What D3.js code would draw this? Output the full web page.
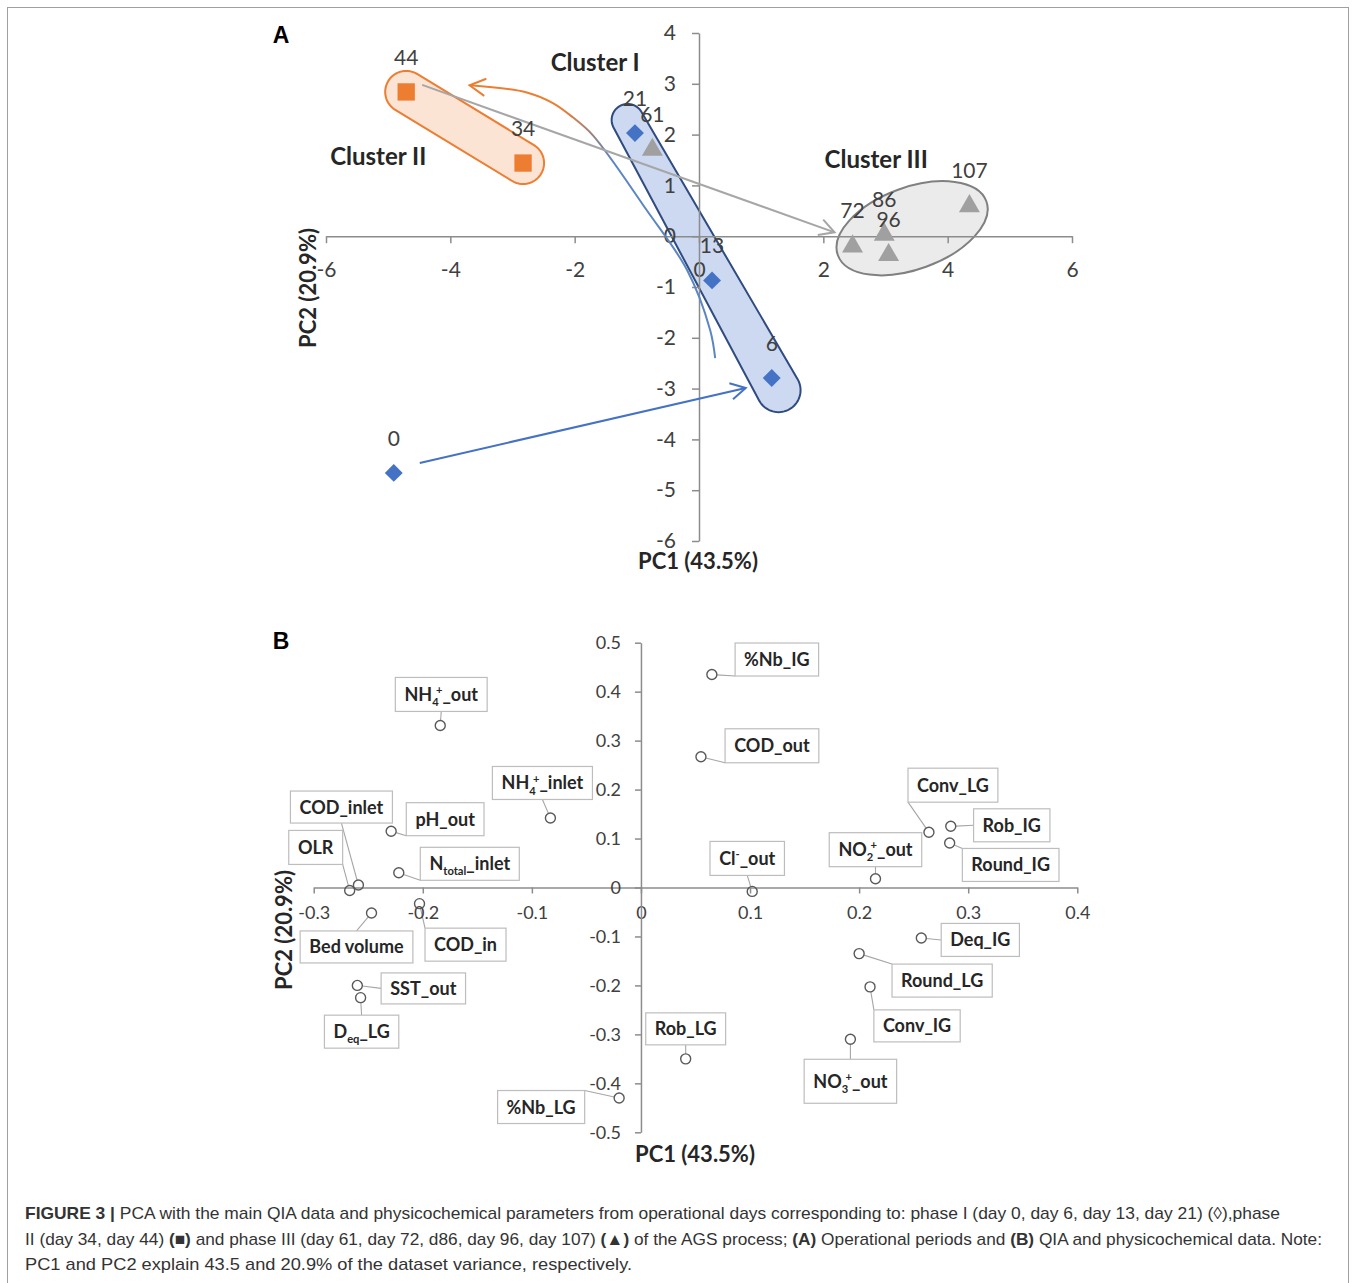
<!DOCTYPE html>
<html>
<head>
<meta charset="utf-8">
<script src="https://cdn.jsdelivr.net/npm/d3@7"></script>
<style>
  body { margin: 0; background: #fff; }
</style>
</head>
<body>
<script>
// ---- panel A : operational days ----
const days  = [0, 6, 13, 21, 34, 44, 61, 72, 86, 96, 107];
const pc1A  = [-4.91, 1.17, 0.21, -1.03, -2.83, -4.71, -0.75, 2.47, 2.98, 3.05, 4.35];
const pc2A  = [-4.66, -2.79, -0.87, 2.03, 1.44, 2.84, 1.72, -0.18, 0.05, -0.35, 0.61];
const phase = ["I", "I", "I", "I", "II", "II", "III", "III", "III", "III", "III"];
const xTicksA = [-6, -4, -2, 0, 2, 4, 6];
const yTicksA = [-6, -5, -4, -3, -2, -1, 0, 1, 2, 3, 4];

const clusterNames = ["Cluster I", "Cluster II", "Cluster III"];
const clusterPC1 = [-1.67, -5.16, 2.85];
const clusterPC2 = [3.41, 1.56, 1.50];

// hand drawn curved arrow (day 6 -> cluster II), in PC units
const trendPC1 = [0.26, 0.18, -0.19, -0.84, -1.71, -2.03, -2.35, -2.77, -3.69];
const trendPC2 = [-2.40, -1.85, -0.67, 0.51, 1.99, 2.34, 2.62, 2.83, 2.97];

// ---- panel B : QIA and physicochemical loadings ----
const vars = ["%Nb_IG", "COD_out", "Conv_LG", "Rob_IG", "Round_IG", "NO{2}[+]_out", "Cl[-]_out",
  "NH{4}[+]_out", "NH{4}[+]_inlet", "COD_inlet", "pH_out", "OLR", "N{total}_inlet", "Bed volume",
  "COD_in", "SST_out", "D{eq}_LG", "%Nb_LG", "Deq_IG", "Round_LG", "Conv_IG", "Rob_LG", "NO{3}[+]_out"];
const pc1B = [0.065, 0.055, 0.264, 0.284, 0.283, 0.215, 0.102, -0.184, -0.083, -0.259, -0.229, -0.267,
  -0.222, -0.247, -0.203, -0.260, -0.257, -0.020, 0.257, 0.200, 0.210, 0.041, 0.192];
const pc2B = [0.435, 0.267, 0.113, 0.125, 0.091, 0.018, -0.008, 0.331, 0.142, 0.005, 0.115, -0.006,
  0.030, -0.052, -0.033, -0.200, -0.225, -0.430, -0.103, -0.135, -0.203, -0.350, -0.310];
const xTicksB = [-0.3, -0.2, -0.1, 0, 0.1, 0.2, 0.3, 0.4];
const yTicksB = [-0.5, -0.4, -0.3, -0.2, -0.1, 0, 0.1, 0.2, 0.3, 0.4, 0.5];

// label box offsets from the point (px) and box heights
const labelDX = [65, 71, 24, 61, 61, 0, -5, 1, -8, -17, 54, -34, 71, -15, 46, 66, 1, -78, 59, 83, 47, 0, 0];
const labelDY = [-15, -11, -47, -1, 22, -29, -33, -31, -35, -78, -12, -43, -9, 34, 41, 3, 34, 9, 2, 27, 39, -30, 42];
const labelH  = [33, 34, 34, 33, 33, 34, 34, 34, 33, 32, 33, 34, 33, 32, 33, 31, 33, 33, 33, 33, 32, 32, 44];

const svg = d3.select("body").append("svg")
  .attr("width", 1356)
  .attr("height", 1283)
  .attr("font-family", "Lato, 'Open Sans', sans-serif");

svg.append("rect")
  .attr("x", 7.5).attr("y", 7.5)
  .attr("width", 1341).attr("height", 1300)
  .attr("fill", "none").attr("stroke", "#a0a0a0");

const axisColor = "#8c8c8c";
function styleAxis(g, size) {
  g.attr("font-family", "Lato, sans-serif").attr("font-size", size);
  g.select(".domain").attr("stroke", axisColor).attr("stroke-width", 1.5);
  g.selectAll(".tick line").attr("stroke", axisColor).attr("stroke-width", 1.5);
  g.selectAll(".tick text").attr("fill", "#404040");
}

function arrow(g, x1, y1, x2, y2, color) {
  const a = Math.atan2(y2 - y1, x2 - x1), L = 17, s = 0.5;
  g.append("line").attr("x1", x1).attr("y1", y1).attr("x2", x2).attr("y2", y2)
    .attr("stroke", color).attr("stroke-width", 2);
  g.append("path")
    .attr("d", `M${x2 - L * Math.cos(a - s)},${y2 - L * Math.sin(a - s)}L${x2},${y2}L${x2 - L * Math.cos(a + s)},${y2 - L * Math.sin(a + s)}`)
    .attr("fill", "none").attr("stroke", color).attr("stroke-width", 2);
}

// ===================== PANEL A =====================
const xA = d3.scaleLinear().domain([-6, 6]).range([326, 1072]);
const yA = d3.scaleLinear().domain([-6, 4]).range([541, 33]);
const gA = svg.append("g");

const pts = days.map((d, i) => ({ day: d, x: xA(pc1A[i]), y: yA(pc2A[i]), phase: phase[i] }));
const byDay = d => pts.find(p => p.day === d);

// tapered capsule around two points
function capsule(p, q, extP, extQ, rP, rQ) {
  const dx = q.x - p.x, dy = q.y - p.y, len = Math.hypot(dx, dy);
  const ux = dx / len, uy = dy / len;
  const c1 = [p.x - ux * extP, p.y - uy * extP], c2 = [q.x + ux * extQ, q.y + uy * extQ];
  const ring = [];
  for (let k = 0; k < 72; k++) {
    const t = k / 72 * 2 * Math.PI;
    ring.push([c1[0] + rP * Math.cos(t), c1[1] + rP * Math.sin(t)]);
    ring.push([c2[0] + rQ * Math.cos(t), c2[1] + rQ * Math.sin(t)]);
  }
  return d3.line().curve(d3.curveLinearClosed)(d3.polygonHull(ring));
}

gA.append("path")
  .attr("d", capsule(byDay(21), byDay(6), 15, 14, 16, 22))
  .attr("fill", "#c3d2ee").attr("fill-opacity", 0.85)
  .attr("stroke", "#2f4b80").attr("stroke-width", 2);
gA.append("path")
  .attr("d", capsule(byDay(44), byDay(34), 0, 0, 21, 21))
  .attr("fill", "#fbe1cf").attr("fill-opacity", 0.9)
  .attr("stroke", "#ed7d31").attr("stroke-width", 2);
const c3 = pts.filter(p => [72, 86, 96, 107].includes(p.day));
const c3x = d3.mean(c3, p => p.x) + 13.4, c3y = d3.mean(c3, p => p.y) - 6.3;
gA.append("ellipse")
  .attr("cx", 0).attr("cy", 0).attr("rx", 79).attr("ry", 41)
  .attr("transform", `translate(${c3x},${c3y}) rotate(-20)`)
  .attr("fill", "#e8e8e8").attr("fill-opacity", 0.85)
  .attr("stroke", "#808080").attr("stroke-width", 2);

// axes
gA.append("g")
  .attr("transform", `translate(0,${yA(0)})`)
  .call(d3.axisBottom(xA).tickValues(xTicksA).tickFormat(d => String(d)).tickSize(7).tickPadding(19).tickSizeOuter(0))
  .call(g => styleAxis(g, 21));
gA.append("g")
  .attr("transform", `translate(${xA(0)},0)`)
  .call(d3.axisLeft(yA).tickValues(yTicksA).tickFormat(d => String(d)).tickSize(7).tickPadding(16).tickSizeOuter(0))
  .call(g => styleAxis(g, 21));

// arrows
const grad = svg.append("defs").append("linearGradient")
  .attr("id", "trendGrad").attr("gradientUnits", "userSpaceOnUse")
  .attr("x1", 612).attr("y1", 160).attr("x2", 565).attr("y2", 105);
grad.append("stop").attr("offset", "0%").attr("stop-color", "#5a86c4");
grad.append("stop").attr("offset", "100%").attr("stop-color", "#ed7d31");

const trend = trendPC1.map((v, i) => [xA(v), yA(trendPC2[i])]);
gA.append("path")
  .attr("d", d3.line().curve(d3.curveCatmullRom)(trend))
  .attr("fill", "none").attr("stroke", "url(#trendGrad)").attr("stroke-width", 2);
{
  const [tx, ty] = trend[trend.length - 1], [px, py] = trend[trend.length - 2];
  const a = Math.atan2(ty - py, tx - px), L = 18, s = 0.5;
  gA.append("path")
    .attr("d", `M${tx - L * Math.cos(a - s)},${ty - L * Math.sin(a - s)}L${tx},${ty}L${tx - L * Math.cos(a + s)},${ty - L * Math.sin(a + s)}`)
    .attr("fill", "none").attr("stroke", "#ed7d31").attr("stroke-width", 2);
}
const p44 = byDay(44), p72 = byDay(72), p0 = byDay(0), p6 = byDay(6);
arrow(gA, p44.x + 16, p44.y - 7, p72.x - 18, p72.y - 13, "#a6a6a6");
arrow(gA, p0.x + 26, p0.y - 10, p6.x - 26, p6.y + 10, "#4472c4");

// markers: diamond = rotated square
const sym = { I: d3.symbolSquare, II: d3.symbolSquare, III: d3.symbolTriangle };
const symSize = { I: 160, II: 300, III: 190 };
const col = { I: "#4472c4", II: "#ed7d31", III: "#a0a0a0" };
gA.selectAll(".pt").data(pts).enter().append("path")
  .attr("class", "pt")
  .attr("d", d => d3.symbol().type(sym[d.phase]).size(symSize[d.phase])())
  .attr("transform", d => `translate(${d.x},${d.y + (d.phase === "III" ? 1 : 0)})` + (d.phase === "I" ? " rotate(45)" : ""))
  .attr("fill", d => col[d.phase]);

gA.selectAll(".dl").data(pts).enter().append("text")
  .attr("class", "dl")
  .attr("x", d => d.x).attr("y", d => d.y - 27)
  .attr("text-anchor", "middle").attr("font-size", 21).attr("fill", "#404040")
  .text(d => d.day);

gA.selectAll(".cl").data(clusterNames).enter().append("text")
  .attr("class", "cl")
  .attr("x", (d, i) => xA(clusterPC1[i])).attr("y", (d, i) => yA(clusterPC2[i]) + 8)
  .attr("text-anchor", "middle").attr("font-size", 24).attr("font-weight", "bold").attr("fill", "#262626")
  .text(d => d);

gA.append("text").attr("x", 698).attr("y", 569).attr("text-anchor", "middle")
  .attr("font-size", 22).attr("font-weight", "bold").attr("fill", "#262626").text("PC1 (43.5%)");
gA.append("text").attr("transform", "translate(316,288) rotate(-90)").attr("text-anchor", "middle")
  .attr("font-size", 22).attr("font-weight", "bold").attr("fill", "#262626").text("PC2 (20.9%)");

svg.append("text").attr("x", 281).attr("y", 43).attr("text-anchor", "middle")
  .attr("font-family", "'Liberation Sans', Arial, sans-serif").attr("font-size", 23).attr("font-weight", "bold").text("A");
svg.append("text").attr("x", 281).attr("y", 649).attr("text-anchor", "middle")
  .attr("font-family", "'Liberation Sans', Arial, sans-serif").attr("font-size", 23).attr("font-weight", "bold").text("B");

// ===================== PANEL B =====================
const xB = d3.scaleLinear().domain([-0.3, 0.4]).range([313.7, 1077.3]);
const yB = d3.scaleLinear().domain([-0.5, 0.5]).range([1132.3, 642.7]);
const gB = svg.append("g");

gB.append("g")
  .attr("transform", `translate(0,${yB(0)})`)
  .call(d3.axisBottom(xB).tickValues(xTicksB).tickFormat(d => String(d)).tickSize(6).tickPadding(13).tickSizeOuter(0))
  .call(g => styleAxis(g, 18));
gB.append("g")
  .attr("transform", `translate(${xB(0)},0)`)
  .call(d3.axisLeft(yB).tickValues(yTicksB).tickFormat(d => String(d)).tickSize(6).tickPadding(14).tickSizeOuter(0))
  .call(g => styleAxis(g, 18));

function richText(t, markup, size) {
  const re = /\{([^}]*)\}|\[([^\]]*)\]|([^{\[]+)/g;
  let m, shift = 0, lastSub = null;
  const small = size * 0.62;
  while ((m = re.exec(markup))) {
    if (m[1] !== undefined) {
      t.append("tspan").attr("font-size", small).attr("dy", size * 0.28 - shift).text(m[1]);
      shift = size * 0.28; lastSub = m[1];
    } else if (m[2] !== undefined) {
      const s = t.append("tspan").attr("font-size", small).attr("dy", -size * 0.38 - shift).text(m[2]);
      if (lastSub) s.attr("dx", -lastSub.length * small * 0.25);
      shift = -size * 0.38; lastSub = null;
    } else {
      t.append("tspan").attr("dy", -shift).text(m[3]);
      shift = 0; lastSub = null;
    }
  }
}

const loads = vars.map((v, i) => ({ name: v, x: xB(pc1B[i]), y: yB(pc2B[i]), dx: labelDX[i], dy: labelDY[i], h: labelH[i] }));
const r = 5;
loads.forEach(d => {
  const cx = d.x + d.dx, cy = d.y + d.dy;
  const lg = gB.append("g");
  const box = lg.append("rect");
  const t = lg.append("text")
    .attr("x", cx).attr("y", cy + 6.5)
    .attr("text-anchor", "middle").attr("font-size", 18).attr("font-weight", "bold").attr("fill", "#262626");
  richText(t, d.name, 18);
  const bb = t.node().getBBox();
  const w = bb.width + 18, h = d.h;
  const x0 = cx - w / 2, y0 = cy - h / 2;
  box.attr("x", x0).attr("y", y0).attr("width", w).attr("height", h)
    .attr("fill", "#fff").attr("stroke", "#bdbdbd").attr("stroke-width", 1.2);
  // leader line to the nearest of the 8 box anchors
  const anchors = [];
  [0, 0.5, 1].forEach(fx => [0, 0.5, 1].forEach(fy => {
    if (fx !== 0.5 || fy !== 0.5) anchors.push([x0 + fx * w, y0 + fy * h]);
  }));
  const best = d3.least(anchors, a => Math.hypot(a[0] - d.x, a[1] - d.y));
  const dist = Math.hypot(best[0] - d.x, best[1] - d.y);
  if (dist > r + 3) {
    const ux = (best[0] - d.x) / dist, uy = (best[1] - d.y) / dist;
    gB.insert("line", ":first-child")
      .attr("x1", d.x + ux * r).attr("y1", d.y + uy * r)
      .attr("x2", best[0]).attr("y2", best[1])
      .attr("stroke", "#a6a6a6").attr("stroke-width", 1.1);
  }
});

gB.selectAll(".ld").data(loads).enter().append("circle")
  .attr("class", "ld")
  .attr("cx", d => d.x).attr("cy", d => d.y).attr("r", r)
  .attr("fill", "none").attr("stroke", "#595959").attr("stroke-width", 1.4);

gB.append("text").attr("x", 695).attr("y", 1162).attr("text-anchor", "middle")
  .attr("font-size", 22).attr("font-weight", "bold").attr("fill", "#262626").text("PC1 (43.5%)");
gB.append("text").attr("transform", "translate(292,930) rotate(-90)").attr("text-anchor", "middle")
  .attr("font-size", 22).attr("font-weight", "bold").attr("fill", "#262626").text("PC2 (20.9%)");

// ===================== CAPTION =====================
const capLines = [
  [["FIGURE 3 |", true], [" PCA with the main QIA data and physicochemical parameters from operational days corresponding to: phase I (day 0, day 6, day 13, day 21) (\u25CA),phase", false]],
  [["II (day 34, day 44) ", false], ["(\u25A0)", true], [" and phase III (day 61, day 72, d86, day 96, day 107) ", false], ["(\u25B2)", true],
   [" of the AGS process; ", false], ["(A)", true], [" Operational periods and ", false], ["(B)", true], [" QIA and physicochemical data. Note:", false]],
  [["PC1 and PC2 explain 43.5 and 20.9% of the dataset variance, respectively.", false]]
];
const capWidth = [1255, 1297, 607];
capLines.forEach((line, i) => {
  const t = svg.append("text")
    .attr("x", 25).attr("y", 1219 + i * 25.5)
    .attr("font-family", "'Liberation Sans', Arial, sans-serif").attr("font-size", 17).attr("fill", "#333")
    .attr("textLength", capWidth[i]).attr("lengthAdjust", "spacingAndGlyphs");
  line.forEach(([s, b]) => t.append("tspan").attr("font-weight", b ? "bold" : "normal").text(s));
});
</script>
</body>
</html>
